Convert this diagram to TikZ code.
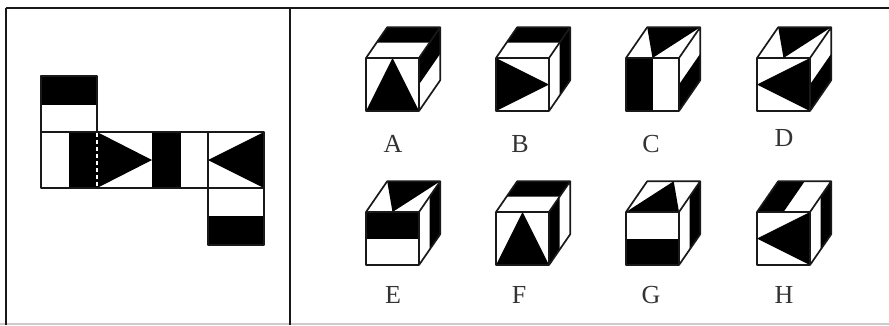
\documentclass[tikz,border=0pt]{standalone}
\usepackage{fontspec}
\setmainfont{Liberation Serif}
\usetikzlibrary{positioning}

% Black parts of the cube faces (unit front face, origin lower left)
\newcommand{\topback}{\fill (.2,1.29) -- (1.2,1.29) -- (1.4,1.58) -- (.4,1.58) -- cycle;}
\newcommand{\topfan}{\fill (.5,1) -- (.4,1.58) -- (1.4,1.58) -- cycle;}
\newcommand{\sideback}{\fill (1.2,.29) -- (1.4,.58) -- (1.4,1.58) -- (1.2,1.29) -- cycle;}
\newcommand{\sidefront}{\fill (1,0) -- (1.2,.29) -- (1.2,1.29) -- (1,1) -- cycle;}
\newcommand{\sideupper}{\fill (1,.5) -- (1.4,1.08) -- (1.4,1.58) -- (1,1) -- cycle;}
\newcommand{\sidelower}{\fill (1,0) -- (1.4,.58) -- (1.4,1.08) -- (1,.5) -- cycle;}
\newcommand{\cubeframe}{\draw[edge] (0,0) rectangle (1,1) (0,1) -- (.4,1.58) -- (1.4,1.58) -- (1.4,.58) -- (1,0) (1,1) -- (1.4,1.58);}

\begin{document}
\begin{tikzpicture}[
    x=1pt, y=-1pt,
    edge/.style={draw=black!90, line width=1.7pt, line join=round},
    rule/.style={draw=black!90, line width=2pt},
    cubecs/.style={x=53pt, y=53pt},
    letter/.style={font=\fontsize{26}{28}\selectfont, inner sep=0pt, text=black!80}
]
    \useasboundingbox (0,0) rectangle (889,325);

    % Frame
    \fill[black!20] (0,323) rectangle (889,325);
    \draw[rule] (6,8) -- (889,8);
    \draw[rule] (6,8) -- (6,325);
    \draw[rule] (290,8) -- (290,325);

    % Net
    \fill (41,76) rectangle (97,105);
    \fill (69,132) rectangle (97,188);
    \fill (97,132) -- (152,160) -- (97,188) -- cycle;
    \fill (152,132) rectangle (181,188);
    \fill (264,132) -- (208,160) -- (264,188) -- cycle;
    \fill (208,216) rectangle (264,245);
    \draw[edge] (41,76) rectangle (97,132);
    \draw[edge] (41,132) rectangle (264,188);
    \draw[edge] (208,132) -- (208,188);
    \draw[edge] (208,188) rectangle (264,245);
    \draw[white, line width=2.5pt, dash pattern=on 3.5pt off 3.5pt] (97,133) -- (97,187);

    % Cube A
    \begin{scope}[shift={(366,111)}, cubecs]
        \topback \sideupper
        \fill (0,0) -- (1,0) -- (.5,1) -- cycle;
        \cubeframe
    \end{scope}

    % Cube B
    \begin{scope}[shift={(496,111)}, cubecs]
        \topback \sideback
        \fill (0,0) -- (0,1) -- (1,.5) -- cycle;
        \cubeframe
    \end{scope}

    % Cube C
    \begin{scope}[shift={(626,111)}, cubecs]
        \topfan \sidelower
        \fill (0,0) rectangle (.5,1);
        \cubeframe
    \end{scope}

    % Cube D
    \begin{scope}[shift={(757,111)}, cubecs]
        \topfan \sidelower
        \fill (0,.5) -- (1,1) -- (1,0) -- cycle;
        \cubeframe
    \end{scope}

    % Cube E
    \begin{scope}[shift={(366,265)}, cubecs]
        \topfan \sideback
        \fill (0,.5) rectangle (1,1);
        \cubeframe
    \end{scope}

    % Cube F
    \begin{scope}[shift={(496,265)}, cubecs]
        \topback \sidefront
        \fill (0,0) -- (1,0) -- (.5,1) -- cycle;
        \cubeframe
    \end{scope}

    % Cube G
    \begin{scope}[shift={(626,265)}, cubecs]
        \fill (0,1) -- (.9,1.58) -- (1,1) -- cycle;
        \sideback
        \fill (0,0) rectangle (1,.5);
        \cubeframe
    \end{scope}

    % Cube H
    \begin{scope}[shift={(757,265)}, cubecs]
        \fill (0,1) -- (.4,1.58) -- (.9,1.58) -- (.5,1) -- cycle;
        \sideback
        \fill (0,.5) -- (1,1) -- (1,0) -- cycle;
        \cubeframe
    \end{scope}

    % Letters
    \node[letter] (labA) at (393,144) {A};
    \node[letter] (labB) at (520,144) {B};
    \node[letter] (labC) at (651,144) {C};
    \node[letter] (labD) at (784,138) {D};
    \node[letter] (labE) at (393,295) {E};
    \node[letter] (labF) at (519,295) {F};
    \node[letter] (labG) at (651,295) {G};
    \node[letter] (labH) at (784,295) {H};
\end{tikzpicture}
\end{document}
